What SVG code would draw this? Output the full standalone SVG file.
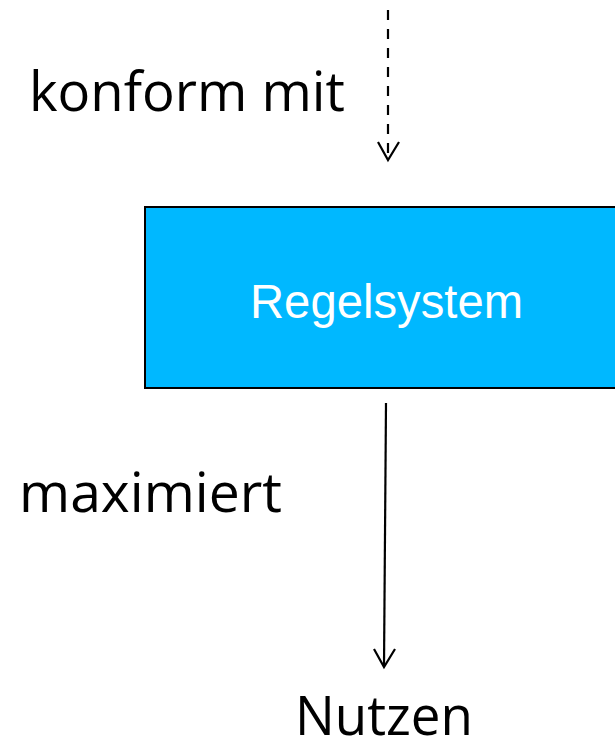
<svg xmlns="http://www.w3.org/2000/svg" width="615" height="743" viewBox="0 0 615 743">
<style>
.lbl{font-family:"Open Sans","Liberation Sans",sans-serif;font-size:55px;fill:#000}
.box{fill:#00B8FF;stroke:#000;stroke-width:2}
.boxtxt{font-family:"Liberation Sans",Arial,sans-serif;font-size:48px;fill:#fff}
.con{fill:none;stroke:#000;stroke-width:2.2}
</style>
<rect width="615" height="743" fill="#fff"/>
<g id="connectors">
<line class="con" x1="388" y1="10" x2="388" y2="158" stroke-dasharray="10 9"/>
<polyline class="con" points="378,142 388,160 399,142"/>
<line class="con" x1="386" y1="403" x2="384" y2="666"/>
<polyline class="con" points="374,649 384,667 395,649"/>
</g>
<g id="label-konform">
<text class="lbl" x="29" y="111" textLength="316" lengthAdjust="spacingAndGlyphs">konform mit</text>
</g>
<g id="node-regelsystem">
<rect class="box" x="145" y="207" width="480" height="181"/>
<text class="boxtxt" x="250" y="318" textLength="273" lengthAdjust="spacingAndGlyphs">Regelsystem</text>
</g>
<g id="label-maximiert">
<text class="lbl" x="19" y="512" textLength="263" lengthAdjust="spacingAndGlyphs">maximiert</text>
</g>
<g id="node-nutzen">
<text class="lbl" x="295" y="735" textLength="178" lengthAdjust="spacingAndGlyphs">Nutzen</text>
</g>
</svg>
